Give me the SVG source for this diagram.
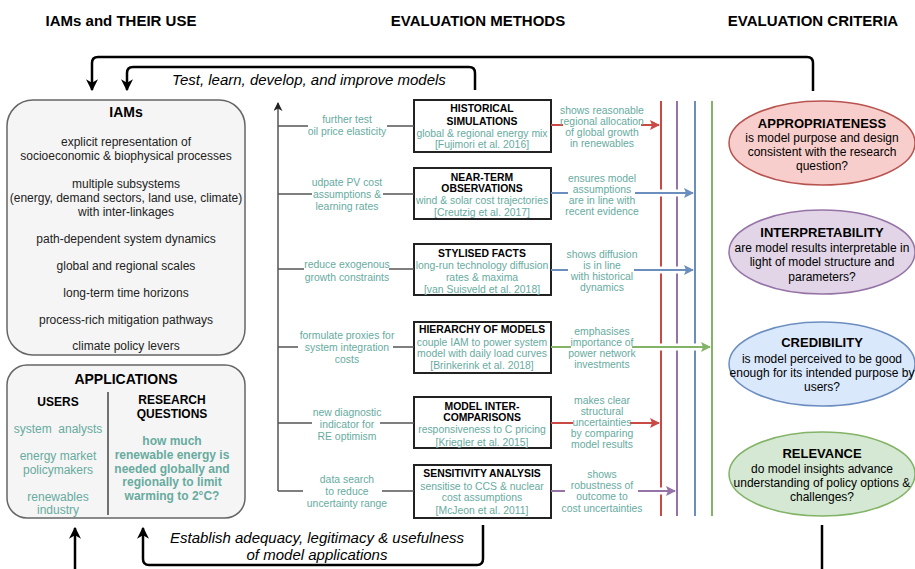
<svg xmlns="http://www.w3.org/2000/svg" width="915" height="569" viewBox="0 0 915 569">
<style>
.h{font-family:"Liberation Sans",Arial,sans-serif;font-size:15px;font-weight:bold;fill:#000;text-anchor:middle}
.t{font-family:"Liberation Sans",Arial,sans-serif;font-size:12px;fill:#222;text-anchor:middle}
.tt{font-family:"Liberation Sans",Arial,sans-serif;font-size:14px;font-weight:bold;fill:#000;text-anchor:middle}
.ub{font-family:"Liberation Sans",Arial,sans-serif;font-size:12px;font-weight:bold;fill:#000;text-anchor:middle}
.ug{font-family:"Liberation Sans",Arial,sans-serif;font-size:12px;fill:#67AB9F;text-anchor:middle}
.ugb{font-family:"Liberation Sans",Arial,sans-serif;font-size:12px;font-weight:bold;fill:#67AB9F;text-anchor:middle}
.g{font-family:"Liberation Sans",Arial,sans-serif;font-size:10.4px;fill:#67AB9F;text-anchor:middle}
.mb{font-family:"Liberation Sans",Arial,sans-serif;font-size:10.4px;font-weight:bold;fill:#000;text-anchor:middle}
.it{font-family:"Liberation Sans",Arial,sans-serif;font-style:italic;font-size:15px;fill:#000;text-anchor:middle}
.et{font-family:"Liberation Sans",Arial,sans-serif;font-size:13px;font-weight:bold;fill:#000;text-anchor:middle}
.ebody{font-family:"Liberation Sans",Arial,sans-serif;font-size:12px;fill:#000;text-anchor:middle}
.rbox{fill:#f5f5f5;stroke:#666;stroke-width:1.5}
.box{fill:#fff;stroke:#222;stroke-width:2}
.loop{fill:none;stroke:#000;stroke-width:2.5}
.br{stroke:#555;stroke-width:1.5;fill:none}
.halo{stroke:#fff;stroke-width:7;fill:none}
.red{stroke:#c94a45;stroke-width:2;fill:none}
.pur{stroke:#9673a6;stroke-width:2;fill:none}
.blu{stroke:#6c8ebf;stroke-width:2;fill:none}
.grn{stroke:#82b366;stroke-width:2;fill:none}
</style>
<defs>
<marker id="mblk" viewBox="0 0 10 10" refX="9" refY="5" markerWidth="12" markerHeight="12" markerUnits="userSpaceOnUse" orient="auto"><path d="M0,0 L10,5 L0,10 L3,5 z" fill="#000"/></marker>
<marker id="mgry" viewBox="0 0 10 10" refX="9" refY="5" markerWidth="9" markerHeight="9" markerUnits="userSpaceOnUse" orient="auto"><path d="M0,0 L10,5 L0,10 L3,5 z" fill="#222"/></marker>
<marker id="mred" viewBox="0 0 10 10" refX="9" refY="5" markerWidth="10" markerHeight="10" markerUnits="userSpaceOnUse" orient="auto"><path d="M0,0 L10,5 L0,10 L2,5 z" fill="#c94a45"/></marker>
<marker id="mblu" viewBox="0 0 10 10" refX="9" refY="5" markerWidth="10" markerHeight="10" markerUnits="userSpaceOnUse" orient="auto"><path d="M0,0 L10,5 L0,10 L2,5 z" fill="#6c8ebf"/></marker>
<marker id="mgrn" viewBox="0 0 10 10" refX="9" refY="5" markerWidth="10" markerHeight="10" markerUnits="userSpaceOnUse" orient="auto"><path d="M0,0 L10,5 L0,10 L2,5 z" fill="#82b366"/></marker>
<marker id="mpur" viewBox="0 0 10 10" refX="9" refY="5" markerWidth="10" markerHeight="10" markerUnits="userSpaceOnUse" orient="auto"><path d="M0,0 L10,5 L0,10 L2,5 z" fill="#9673a6"/></marker>
</defs>
<rect width="915" height="569" fill="#fff"/>

<g id="headers">
<text class="h" x="121" y="26">IAMs and THEIR USE</text>
<text class="h" x="478" y="26">EVALUATION METHODS</text>
<text class="h" x="813" y="26">EVALUATION CRITERIA</text>
</g>

<g id="iams">
<rect class="rbox" x="7" y="100" width="238" height="255" rx="26"/>
<text class="tt" x="126" y="117">IAMs</text>
<text class="t" x="126" y="146">explicit representation of</text>
<text class="t" x="126" y="160">socioeconomic &amp; biophysical processes</text>
<text class="t" x="126" y="188">multiple subsystems</text>
<text class="t" x="126" y="202">(energy, demand sectors, land use, climate)</text>
<text class="t" x="126" y="216">with inter-linkages</text>
<text class="t" x="126" y="243">path-dependent system dynamics</text>
<text class="t" x="126" y="270">global and regional scales</text>
<text class="t" x="126" y="297">long-term time horizons</text>
<text class="t" x="126" y="324">process-rich mitigation pathways</text>
<text class="t" x="126" y="350">climate policy levers</text>
</g>

<g id="applications">
<rect class="rbox" x="7" y="365" width="238" height="153" rx="20"/>
<text class="tt" x="126" y="384">APPLICATIONS</text>
<line x1="108" y1="392" x2="108" y2="515" stroke="#444" stroke-width="1.5"/>
<text class="ub" x="58" y="406">USERS</text>
<text class="ub" x="172" y="404">RESEARCH</text>
<text class="ub" x="172" y="418">QUESTIONS</text>
<text class="ug" x="58" y="433" xml:space="preserve" style="white-space:pre">system  analysts</text>
<text class="ug" x="58" y="460">energy market</text>
<text class="ug" x="58" y="474">policymakers</text>
<text class="ug" x="58" y="501">renewables</text>
<text class="ug" x="58" y="514">industry</text>
<text class="ugb" x="172" y="445">how much</text>
<text class="ugb" x="172" y="459">renewable energy is</text>
<text class="ugb" x="172" y="473">needed globally and</text>
<text class="ugb" x="172" y="486">regionally to limit</text>
<text class="ugb" x="172" y="500">warming to 2°C?</text>
</g>

<g id="m1">
<rect class="box" x="414" y="100" width="137" height="52"/>
<text class="mb" x="482" y="112">HISTORICAL</text>
<text class="mb" x="482" y="125">SIMULATIONS</text>
<text class="g" x="482" y="137">global &amp; regional energy mix</text>
<text class="g" x="482" y="148">[Fujimori et al. 2016]</text>
</g>
<g id="m2">
<rect class="box" x="414" y="168" width="137" height="51"/>
<text class="mb" x="482" y="181">NEAR-TERM</text>
<text class="mb" x="482" y="192">OBSERVATIONS</text>
<text class="g" x="482" y="204">wind &amp; solar cost trajectories</text>
<text class="g" x="482" y="216">[Creutzig et al. 2017]</text>
</g>
<g id="m3">
<rect class="box" x="414" y="244" width="137" height="51"/>
<text class="mb" x="482" y="257">STYLISED FACTS</text>
<text class="g" x="482" y="269">long-run technology diffusion</text>
<text class="g" x="482" y="281">rates &amp; maxima</text>
<text class="g" x="482" y="293">[van Suisveld et al. 2018]</text>
</g>
<g id="m4">
<rect class="box" x="414" y="322" width="137" height="51"/>
<text class="mb" x="482" y="333">HIERARCHY OF MODELS</text>
<text class="g" x="482" y="346">couple IAM to power system</text>
<text class="g" x="482" y="357">model with daily load curves</text>
<text class="g" x="482" y="369">[Brinkerink et al. 2018]</text>
</g>
<g id="m5">
<rect class="box" x="414" y="397" width="137" height="51"/>
<text class="mb" x="482" y="410">MODEL INTER-</text>
<text class="mb" x="482" y="421">COMPARISONS</text>
<text class="g" x="482" y="433">responsiveness to C pricing</text>
<text class="g" x="482" y="446">[Kriegler et al. 2015]</text>
</g>
<g id="m6">
<rect class="box" x="414" y="465" width="137" height="53"/>
<text class="mb" x="482" y="477">SENSITIVITY ANALYSIS</text>
<text class="g" x="482" y="490">sensitise to CCS &amp; nuclear</text>
<text class="g" x="482" y="501">cost assumptions</text>
<text class="g" x="482" y="514">[McJeon et al. 2011]</text>
</g>

<g id="c1">
<ellipse cx="822" cy="143" rx="93" ry="42" fill="#f8cecc" stroke="#b85450" stroke-width="1.5"/>
<text class="et" x="822" y="128">APPROPRIATENESS</text>
<text class="ebody" x="822" y="142">is model purpose and design</text>
<text class="ebody" x="822" y="156">consistent with the research</text>
<text class="ebody" x="822" y="170">question?</text>
</g>
<g id="c2">
<ellipse cx="822" cy="252" rx="93" ry="42" fill="#e1d5e7" stroke="#9673a6" stroke-width="1.5"/>
<text class="et" x="822" y="237">INTERPRETABILITY</text>
<text class="ebody" x="822" y="252">are model results interpretable in</text>
<text class="ebody" x="822" y="266">light of model structure and</text>
<text class="ebody" x="822" y="281">parameters?</text>
</g>
<g id="c3">
<ellipse cx="822" cy="364" rx="93" ry="42" fill="#dae8fc" stroke="#6c8ebf" stroke-width="1.5"/>
<text class="et" x="822" y="347">CREDIBILITY</text>
<text class="ebody" x="822" y="363">is model perceived to be good</text>
<text class="ebody" x="822" y="377">enough for its intended purpose by</text>
<text class="ebody" x="822" y="391">users?</text>
</g>
<g id="c4">
<ellipse cx="822" cy="474" rx="93" ry="42" fill="#d5e8d4" stroke="#82b366" stroke-width="1.5"/>
<text class="et" x="822" y="458">RELEVANCE</text>
<text class="ebody" x="822" y="473">do model insights advance</text>
<text class="ebody" x="822" y="487">understanding of policy options &amp;</text>
<text class="ebody" x="822" y="501">challenges?</text>
</g>

<g id="connectors">
<path class="loop" d="M813,91 L813,63 Q813,57 807,57 L98,57 Q92,57 92,63 L92,90" marker-end="url(#mblk)"/>
<path class="loop" d="M475,90 L475,73 Q475,67 469,67 L133,67 Q127,67 127,73 L127,90" marker-end="url(#mblk)"/>
<text class="it" x="309" y="85">Test, learn, develop, and improve models</text>
<path class="loop" d="M483,525 L483,559 Q483,565 477,565 L149,565 Q143,565 143,559 L143,528" marker-end="url(#mblk)"/>
<path class="loop" d="M75,569 L75,528" marker-end="url(#mblk)"/>
<path class="loop" d="M822,525 L822,569"/>
<text class="it" x="317" y="543">Establish adequacy, legitimacy &amp; usefulness</text>
<text class="it" x="317" y="560">of model applications</text>

<path class="br" d="M278,491 L278,103" marker-end="url(#mgry)"/>
<path class="br" d="M278,126 L308,126 M387,126 L414,126"/>
<path class="br" d="M278,194 L312,194 M383,194 L414,194"/>
<path class="br" d="M278,269 L304,269 M389,269 L414,269"/>
<path class="br" d="M278,347 L298,347 M393,347 L414,347"/>
<path class="br" d="M278,423 L312,423 M380,423 L414,423"/>
<path class="br" d="M278,491 L303,491 M382,491 L414,491"/>
<text class="g" x="347" y="123">further test</text>
<text class="g" x="347" y="135">oil price elasticity</text>
<text class="g" x="347" y="186">udpate PV cost</text>
<text class="g" x="347" y="198">assumptions &amp;</text>
<text class="g" x="347" y="210">learning rates</text>
<text class="g" x="347" y="268">reduce exogenous</text>
<text class="g" x="347" y="281">growth constraints</text>
<text class="g" x="347" y="339">formulate proxies for</text>
<text class="g" x="347" y="351">system integration</text>
<text class="g" x="347" y="363">costs</text>
<text class="g" x="347" y="416">new diagnostic</text>
<text class="g" x="347" y="428">indicator for</text>
<text class="g" x="347" y="440">RE optimism</text>
<text class="g" x="347" y="483">data search</text>
<text class="g" x="347" y="495">to reduce</text>
<text class="g" x="347" y="507">uncertainty range</text>

<line class="red" x1="661" y1="101" x2="661" y2="516"/>
<line class="pur" x1="677" y1="101" x2="677" y2="516"/>
<line class="blu" x1="695" y1="101" x2="695" y2="516"/>
<line class="grn" x1="712" y1="101" x2="712" y2="516"/>

<path class="red" d="M551,125 L563,125"/>
<path class="red" d="M641,125 L659,125" marker-end="url(#mred)"/>
<path class="blu" d="M551,193 L568,193"/>
<line class="halo" x1="655" y1="193" x2="685" y2="193"/>
<path class="blu" d="M635,193 L693,193" marker-end="url(#mblu)"/>
<path class="blu" d="M551,270 L568,270"/>
<line class="halo" x1="655" y1="270" x2="685" y2="270"/>
<path class="blu" d="M634,270 L693,270" marker-end="url(#mblu)"/>
<path class="grn" d="M551,347 L571,347"/>
<line class="halo" x1="655" y1="347" x2="702" y2="347"/>
<path class="grn" d="M632,347 L710,347" marker-end="url(#mgrn)"/>
<path class="red" d="M551,423 L573,423"/>
<path class="red" d="M630,423 L659,423" marker-end="url(#mred)"/>
<path class="pur" d="M551,491 L565,491"/>
<line class="halo" x1="655" y1="491" x2="668" y2="491"/>
<path class="pur" d="M638,491 L675,491" marker-end="url(#mpur)"/>

<text class="g" x="602" y="114">shows reasonable</text>
<text class="g" x="602" y="125">regional allocation</text>
<text class="g" x="602" y="136">of global growth</text>
<text class="g" x="602" y="147">in renewables</text>
<text class="g" x="602" y="182">ensures model</text>
<text class="g" x="602" y="193">assumptions</text>
<text class="g" x="602" y="204">are in line with</text>
<text class="g" x="602" y="215">recent evidence</text>
<text class="g" x="602" y="258">shows diffusion</text>
<text class="g" x="602" y="269">is in line</text>
<text class="g" x="602" y="280">with historical</text>
<text class="g" x="602" y="291">dynamics</text>
<text class="g" x="602" y="335">emphasises</text>
<text class="g" x="602" y="346">importance of</text>
<text class="g" x="602" y="357">power network</text>
<text class="g" x="602" y="368">investments</text>
<text class="g" x="602" y="404">makes clear</text>
<text class="g" x="602" y="415">structural</text>
<text class="g" x="602" y="426">uncertainties</text>
<text class="g" x="602" y="437">by comparing</text>
<text class="g" x="602" y="448">model results</text>
<text class="g" x="602" y="478">shows</text>
<text class="g" x="602" y="489">robustness of</text>
<text class="g" x="602" y="500">outcome to</text>
<text class="g" x="602" y="512">cost uncertainties</text>
</g>
</svg>
